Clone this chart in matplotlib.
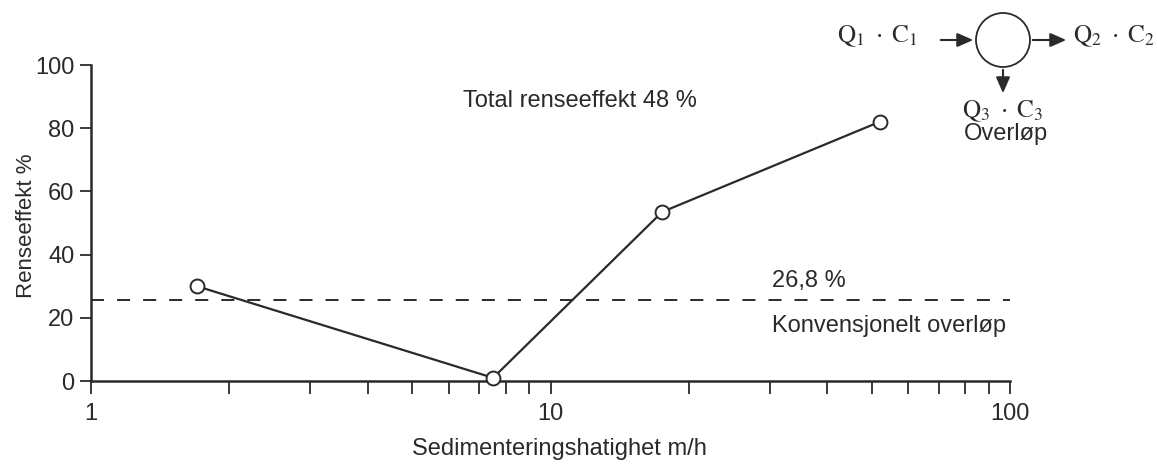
import matplotlib
matplotlib.use("Agg")
import matplotlib.pyplot as plt
from matplotlib.patches import Circle, FancyArrowPatch
from matplotlib.ticker import FixedLocator, NullFormatter

plt.rcParams['mathtext.fontset'] = 'stix'

# Data
velocity = [1.7, 7.5, 17.5, 52]          # m/h
efficiency = [30, 1, 53.5, 82]           # %
conventional_level = 25.5                # drawn level of dashed line
conventional_label = "26,8 %"
major_ticks = [1, 10, 100]
major_labels = ["1", "10", "100"]
minor_ticks = [2, 3, 4, 5, 6, 7, 8, 9, 20, 30, 40, 50, 60, 70, 80, 90]
y_ticks = [0, 20, 40, 60, 80, 100]

INK = "#2a2a2a"
FS = 17
W, H = 1157, 468
fig = plt.figure(figsize=(W / 100, H / 100), dpi=100)
ax = fig.add_axes([91 / W, 1 - 381 / H, (1010 - 91) / W, (381 - 65) / H])

ax.set_xscale("log")
ax.set_xlim(1, 100)
ax.set_ylim(0, 100)

ax.plot(velocity, efficiency, color=INK, lw=1.6, marker="o", ms=10,
        mfc="white", mec=INK, mew=1.4, zorder=3, clip_on=False)
ax.plot([1, 100], [conventional_level, conventional_level], color=INK, lw=1.4,
        dashes=(6.7, 6.7), clip_on=False)

for s in ["top", "right"]:
    ax.spines[s].set_visible(False)
for s in ["left", "bottom"]:
    ax.spines[s].set_color(INK)
    ax.spines[s].set_linewidth(1.8)

ax.xaxis.set_major_locator(FixedLocator(major_ticks))
ax.set_xticklabels(major_labels)
ax.xaxis.set_minor_locator(FixedLocator(minor_ticks))
ax.xaxis.set_minor_formatter(NullFormatter())
ax.tick_params(axis="x", which="both", direction="out", length=9, width=1.3,
               color=INK, labelcolor=INK, pad=7)
ax.tick_params(axis="x", which="major", labelsize=FS)
for lbl in ax.get_xticklabels():
    lbl.set_family(["Liberation Sans Narrow", "Liberation Sans"])

ax.set_yticks(y_ticks)
ax.tick_params(axis="y", direction="out", length=8, width=1.3, color=INK,
               labelcolor=INK, labelsize=FS, pad=4)
for lbl in ax.get_yticklabels():
    lbl.set_family("Liberation Sans")

ax.set_ylabel("Renseeffekt %", fontsize=16, color=INK, family="Liberation Sans")
ax.yaxis.set_label_coords(-0.059, 0.49)
ax.set_xlabel("Sedimenteringshatighet m/h", fontsize=FS, color=INK,
              family="Liberation Sans", labelpad=9)
ax.xaxis.label.set_x(0.51)

ax.text(6.45, 88.6, "Total renseeffekt 48 %", fontsize=FS, color=INK,
        family="Liberation Sans", ha="left", va="center")
ax.text(30.3, 31.6, conventional_label, fontsize=FS, color=INK,
        family="Liberation Sans", ha="left", va="center")
ax.text(30.3, 17.4, "Konvensjonelt overløp", fontsize=FS, color=INK,
        family="Liberation Sans", ha="left", va="center")

# Flow diagram overlay in pixel coordinates
ov = fig.add_axes([0, 0, 1, 1], zorder=5)
ov.set_xlim(0, W)
ov.set_ylim(H, 0)
ov.axis("off")
ov.patch.set_alpha(0)
cx, cy, r = 1003, 40, 27
ov.add_patch(Circle((cx, cy), r, fill=False, ec=INK, lw=1.3))
arrow_kw = dict(arrowstyle="-|>,head_length=0.8,head_width=0.35", color=INK,
                lw=1.5, mutation_scale=12)
ov.add_patch(FancyArrowPatch((938, cy), (cx - r, cy), **arrow_kw))
ov.add_patch(FancyArrowPatch((cx + r, cy), (1069, cy), **arrow_kw))
ov.add_patch(FancyArrowPatch((cx, cy + r), (cx, 96), **arrow_kw))
ov.text(877, 36, r"$\mathrm{Q_1\ \cdot\ C_1}$", fontsize=18, color=INK,
        ha="center", va="center")
ov.text(1114, 36, r"$\mathrm{Q_2\ \cdot\ C_2}$", fontsize=18, color=INK,
        ha="center", va="center")
ov.text(cx, 111, r"$\mathrm{Q_3\ \cdot\ C_3}$", fontsize=18, color=INK,
        ha="center", va="center")
ov.text(1006, 134, "Overløp", fontsize=FS, color=INK, family="Liberation Sans",
        ha="center", va="center")

fig.savefig("out.png", dpi=100, facecolor="white")
